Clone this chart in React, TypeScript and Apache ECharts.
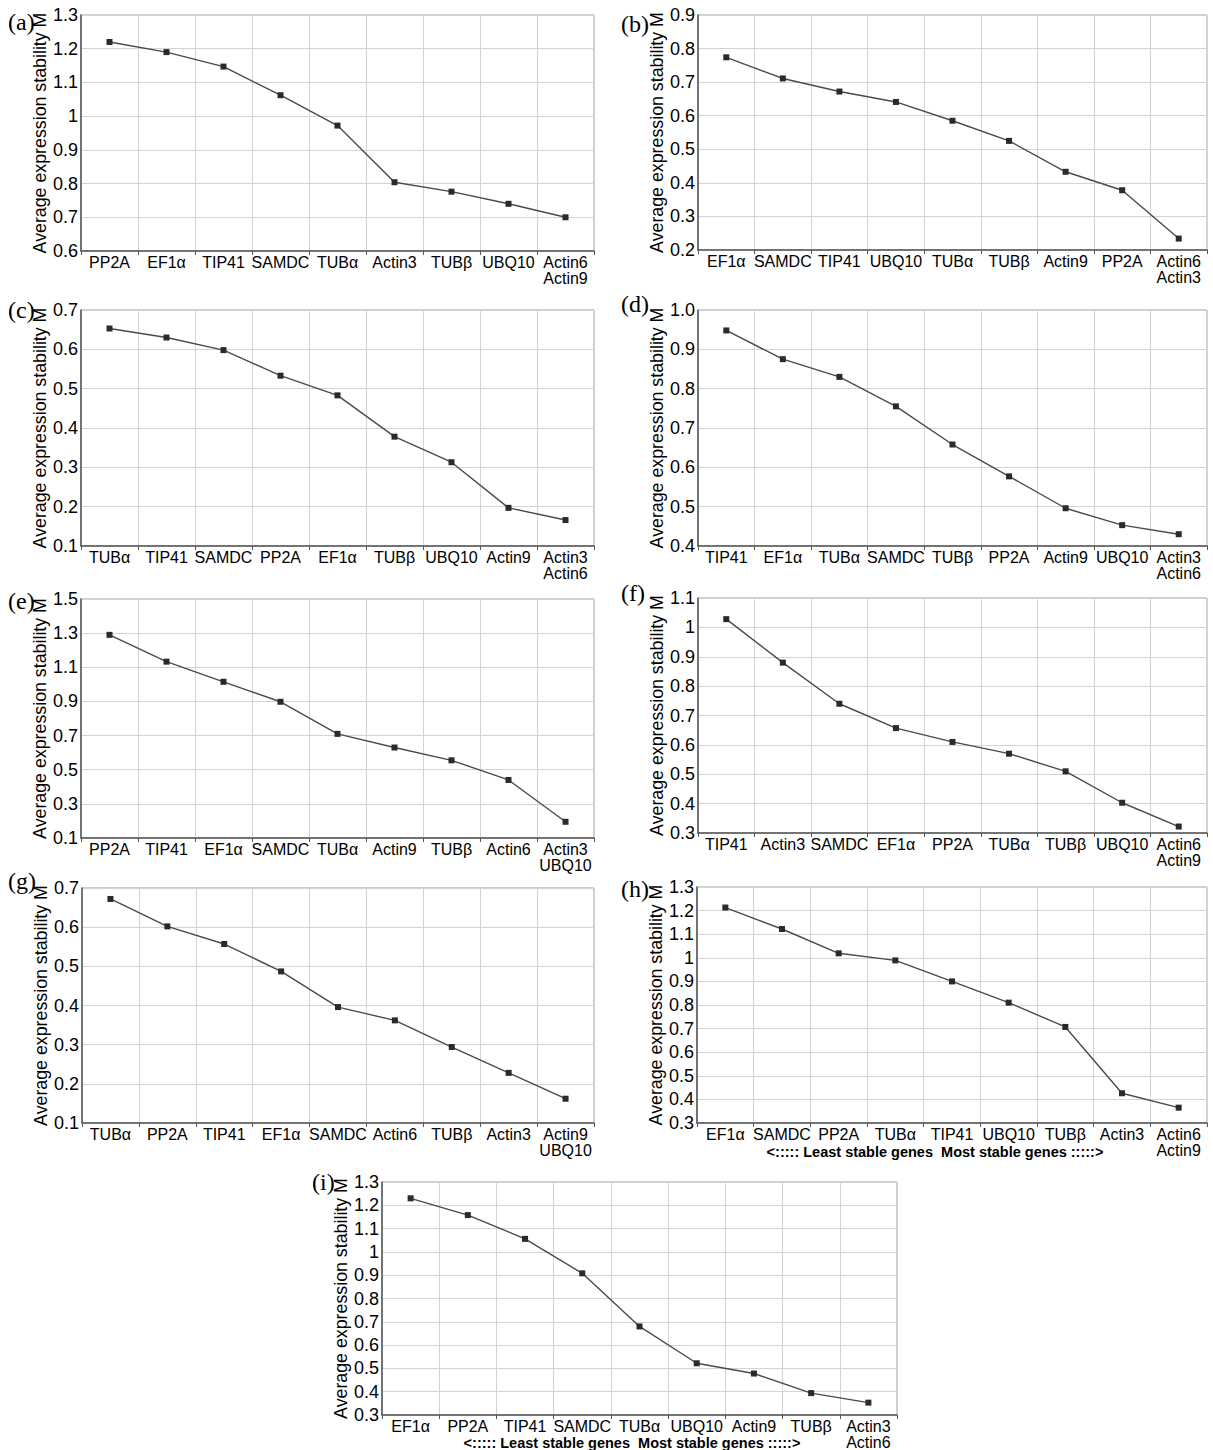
import React, { useEffect, useRef } from "react";
import * as echarts from "echarts";

// ---------- data ----------
const catsA = ["PP2A", "EF1α", "TIP41", "SAMDC", "TUBα", "Actin3", "TUBβ", "UBQ10", "Actin6\nActin9"];
const valsA = [1.22, 1.19, 1.147, 1.062, 0.972, 0.804, 0.776, 0.74, 0.7];
const ticksA = ["0.6", "0.7", "0.8", "0.9", "1", "1.1", "1.2", "1.3"];

const catsB = ["EF1α", "SAMDC", "TIP41", "UBQ10", "TUBα", "TUBβ", "Actin9", "PP2A", "Actin6\nActin3"];
const valsB = [0.774, 0.711, 0.672, 0.641, 0.585, 0.525, 0.433, 0.378, 0.234];
const ticksB = ["0.2", "0.3", "0.4", "0.5", "0.6", "0.7", "0.8", "0.9"];

const catsC = ["TUBα", "TIP41", "SAMDC", "PP2A", "EF1α", "TUBβ", "UBQ10", "Actin9", "Actin3\nActin6"];
const valsC = [0.653, 0.63, 0.598, 0.533, 0.483, 0.378, 0.313, 0.197, 0.166];
const ticksC = ["0.1", "0.2", "0.3", "0.4", "0.5", "0.6", "0.7"];

const catsD = ["TIP41", "EF1α", "TUBα", "SAMDC", "TUBβ", "PP2A", "Actin9", "UBQ10", "Actin3\nActin6"];
const valsD = [0.948, 0.875, 0.83, 0.755, 0.658, 0.577, 0.496, 0.453, 0.43];
const ticksD = ["0.4", "0.5", "0.6", "0.7", "0.8", "0.9", "1.0"];

const catsE = ["PP2A", "TIP41", "EF1α", "SAMDC", "TUBα", "Actin9", "TUBβ", "Actin6", "Actin3\nUBQ10"];
const valsE = [1.29, 1.133, 1.015, 0.898, 0.71, 0.63, 0.555, 0.44, 0.195];
const ticksE = ["0.1", "0.3", "0.5", "0.7", "0.9", "1.1", "1.3", "1.5"];

const catsF = ["TIP41", "Actin3", "SAMDC", "EF1α", "PP2A", "TUBα", "TUBβ", "UBQ10", "Actin6\nActin9"];
const valsF = [1.028, 0.88, 0.74, 0.657, 0.61, 0.57, 0.51, 0.403, 0.322];
const ticksF = ["0.3", "0.4", "0.5", "0.6", "0.7", "0.8", "0.9", "1", "1.1"];

const catsG = ["TUBα", "PP2A", "TIP41", "EF1α", "SAMDC", "Actin6", "TUBβ", "Actin3", "Actin9\nUBQ10"];
const valsG = [0.672, 0.602, 0.557, 0.487, 0.396, 0.362, 0.294, 0.228, 0.162];
const ticksG = ["0.1", "0.2", "0.3", "0.4", "0.5", "0.6", "0.7"];

const catsH = ["EF1α", "SAMDC", "PP2A", "TUBα", "TIP41", "UBQ10", "TUBβ", "Actin3", "Actin6\nActin9"];
const valsH = [1.213, 1.122, 1.019, 0.989, 0.9, 0.81, 0.707, 0.426, 0.365];
const ticksH = ["0.3", "0.4", "0.5", "0.6", "0.7", "0.8", "0.9", "1", "1.1", "1.2", "1.3"];

const catsI = ["EF1α", "PP2A", "TIP41", "SAMDC", "TUBα", "UBQ10", "Actin9", "TUBβ", "Actin3\nActin6"];
const valsI = [1.23, 1.158, 1.056, 0.908, 0.68, 0.522, 0.478, 0.394, 0.353];
const ticksI = ["0.3", "0.4", "0.5", "0.6", "0.7", "0.8", "0.9", "1", "1.1", "1.2", "1.3"];

const panelLetters = ["(a)", "(b)", "(c)", "(d)", "(e)", "(f)", "(g)", "(h)", "(i)"];
const yName = "Average expression stability M";
const stabilityNote = "<::::: Least stable genes  Most stable genes :::::>";

const panels = [
  { cats: catsA, vals: valsA, ticks: ticksA },
  { cats: catsB, vals: valsB, ticks: ticksB },
  { cats: catsC, vals: valsC, ticks: ticksC },
  { cats: catsD, vals: valsD, ticks: ticksD },
  { cats: catsE, vals: valsE, ticks: ticksE },
  { cats: catsF, vals: valsF, ticks: ticksF },
  { cats: catsG, vals: valsG, ticks: ticksG },
  { cats: catsH, vals: valsH, ticks: ticksH },
  { cats: catsI, vals: valsI, ticks: ticksI },
];

// ---------- layout ----------
const layout = [
  { l: 81, t: 15, w: 513, h: 236, lx: 8, ly: 22 },
  { l: 698, t: 15, w: 509, h: 235, lx: 621, ly: 24 },
  { l: 81, t: 310, w: 513, h: 236, lx: 8, ly: 310 },
  { l: 698, t: 310, w: 509, h: 236, lx: 621, ly: 304 },
  { l: 81, t: 599, w: 513, h: 239, lx: 8, ly: 601 },
  { l: 698, t: 598, w: 509, h: 235, lx: 621, ly: 593 },
  { l: 82, t: 888, w: 512, h: 235, lx: 8, ly: 881 },
  { l: 697, t: 887, w: 510, h: 236, lx: 621, ly: 889 },
  { l: 382, t: 1182, w: 515, h: 234, lx: 312, ly: 1182 },
];

const FONT = "'Liberation Sans', Arial, sans-serif";

export default function App() {
  const ref = useRef<HTMLDivElement>(null);

  useEffect(() => {
    if (!ref.current) return;
    const chart = echarts.init(ref.current, undefined, { renderer: "svg" });

    const grid: any[] = [];
    const xAxis: any[] = [];
    const yAxis: any[] = [];
    const series: any[] = [];
    const graphic: any[] = [];

    panels.forEach((p, i) => {
      const L = layout[i];
      grid.push({
        left: L.l,
        top: L.t,
        width: L.w,
        height: L.h,
        show: true,
        borderColor: "#9a9a9a",
        borderWidth: 1,
        backgroundColor: "transparent",
      });
      xAxis.push({
        type: "category",
        gridIndex: i,
        data: p.cats,
        boundaryGap: true,
        axisLine: { show: true, lineStyle: { color: "#555", width: 1.5 } },
        axisTick: { show: true, interval: 0, length: 4, lineStyle: { color: "#555" } },
        axisLabel: {
          interval: 0,
          fontSize: 16,
          color: "#000",
          margin: 3,
          lineHeight: 16,
          fontFamily: FONT,
        },
        splitLine: { show: true, interval: 0, lineStyle: { color: "#d4d4d4", width: 1 } },
      });
    });

    // hidden data axes (true value scale)
    panels.forEach((p, i) => {
      yAxis.push({
        type: "value",
        gridIndex: i,
        position: "right",
        min: parseFloat(p.ticks[0]),
        max: parseFloat(p.ticks[p.ticks.length - 1]),
        show: false,
        splitLine: { show: false },
      });
    });
    // display axes (tick labels)
    panels.forEach((p, i) => {
      yAxis.push({
        type: "value",
        gridIndex: i,
        position: "left",
        min: 0,
        max: p.ticks.length - 1,
        interval: 1,
        axisLine: { show: true, lineStyle: { color: "#555", width: 1.5 } },
        axisTick: { show: false },
        axisLabel: {
          fontSize: 18,
          color: "#000",
          margin: 3,
          fontFamily: FONT,
          formatter: (v: number) => p.ticks[Math.round(v)] ?? "",
        },
        splitLine: { show: true, lineStyle: { color: "#d4d4d4", width: 1 } },
        name: yName,
        nameLocation: "middle",
        nameGap: 22,
        nameTextStyle: { fontSize: 17.8, color: "#000", fontFamily: FONT },
      });
    });

    panels.forEach((p, i) => {
      series.push({
        type: "line",
        xAxisIndex: i,
        yAxisIndex: i,
        data: p.vals,
        symbol: "rect",
        symbolSize: 6,
        lineStyle: { color: "#4a4a4a", width: 1.4 },
        itemStyle: { color: "#2a2a2a" },
        z: 5,
      });
      const L = layout[i];
      graphic.push({
        type: "text",
        x: L.lx,
        y: L.ly,
        style: {
          text: panelLetters[i],
          fontSize: 24,
          fontFamily: "'Liberation Serif', 'Times New Roman', serif",
          fill: "#000",
          align: "left",
          verticalAlign: "middle",
        },
      });
    });

    graphic.push({
      type: "text",
      x: 935,
      y: 1152,
      style: {
        text: stabilityNote,
        fontSize: 14.5,
        fontWeight: "bold",
        fontFamily: FONT,
        fill: "#000",
        align: "center",
        verticalAlign: "middle",
      },
    });
    graphic.push({
      type: "text",
      x: 632,
      y: 1443,
      style: {
        text: stabilityNote,
        fontSize: 14.5,
        fontWeight: "bold",
        fontFamily: FONT,
        fill: "#000",
        align: "center",
        verticalAlign: "middle",
      },
    });

    chart.setOption({
      animation: false,
      backgroundColor: "#ffffff",
      textStyle: { fontFamily: FONT },
      grid,
      xAxis,
      yAxis,
      series,
      graphic,
    });

    return () => {
      chart.dispose();
    };
  }, []);

  return (
    <div
      ref={ref}
      style={{ position: "absolute", left: 0, top: 0, width: 1213, height: 1450 }}
    />
  );
}
